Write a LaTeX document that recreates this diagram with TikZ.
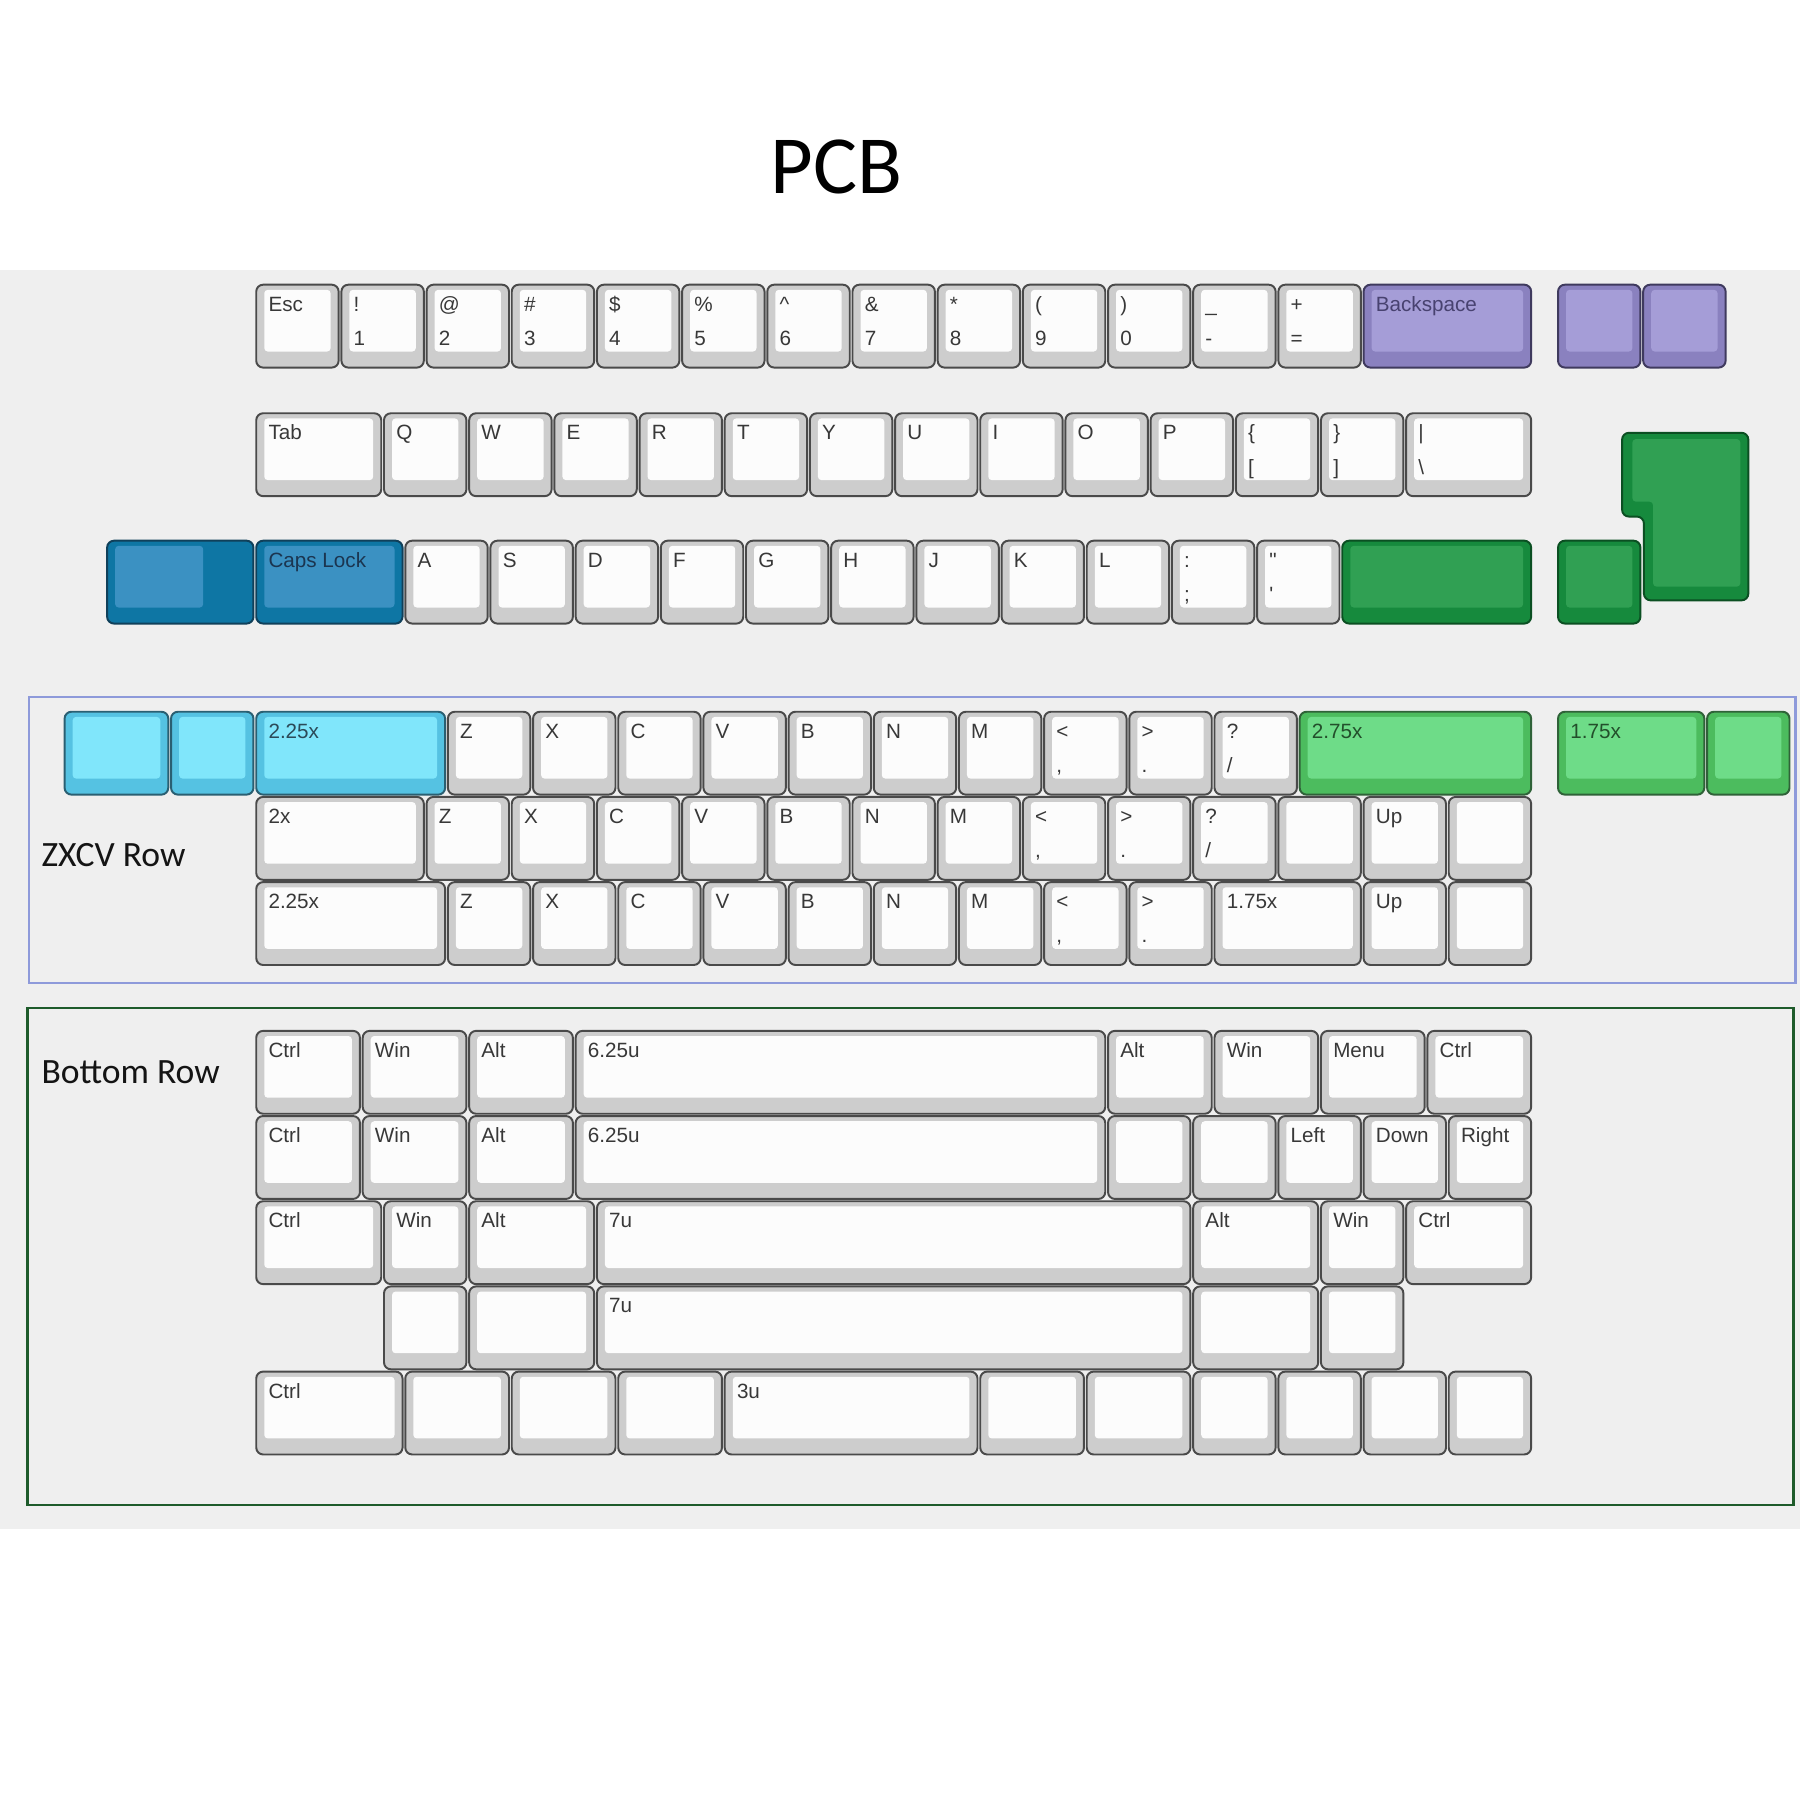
\documentclass[tikz,border=0pt]{standalone}
\usepackage{fontspec}
\setmainfont{Liberation Sans}
\newfontfamily\headfont{Carlito}
\definecolor{whiteO}{HTML}{CDCDCD}\definecolor{whiteI}{HTML}{FCFCFC}\definecolor{whiteB}{HTML}{4A4A4A}\definecolor{whiteT}{HTML}{383838}
\definecolor{purpO}{HTML}{8A81BF}\definecolor{purpI}{HTML}{A59DD7}\definecolor{purpB}{HTML}{3F3A5E}\definecolor{purpT}{HTML}{484270}
\definecolor{dblueO}{HTML}{0E76A4}\definecolor{dblueI}{HTML}{3B91C2}\definecolor{dblueB}{HTML}{10405A}\definecolor{dblueT}{HTML}{1B3550}
\definecolor{dgrnO}{HTML}{168A3D}\definecolor{dgrnI}{HTML}{30A053}\definecolor{dgrnB}{HTML}{0B4F22}\definecolor{dgrnT}{HTML}{0B3F1A}
\definecolor{lblueO}{HTML}{55C2E2}\definecolor{lblueI}{HTML}{80E6FB}\definecolor{lblueB}{HTML}{2A5F72}\definecolor{lblueT}{HTML}{2B4A58}
\definecolor{lgrnO}{HTML}{4CBC5E}\definecolor{lgrnI}{HTML}{6EDC88}\definecolor{lgrnB}{HTML}{2F6238}\definecolor{lgrnT}{HTML}{234F2B}
\definecolor{bandgray}{HTML}{EFEFEF}
\definecolor{zxframe}{HTML}{8E9ADA}
\definecolor{botframe}{HTML}{1E5B2B}
\tikzset{
  keyout/.style={rounded corners=6pt, line width=1.7pt},
  keyin/.style={rounded corners=3pt},
  keylbl/.style={anchor=base west, inner sep=0pt, font=\fontsize{18}{21}\selectfont},
  sectlbl/.style={anchor=base west, inner sep=0pt, text=black!92, font=\headfont\fontsize{31}{35}\selectfont},
}
% #1 x offset (u), #2 top y, #3 width (u), #4 scheme, #5 line 1, #6 line 2
\newcommand\keycap[6]{%
  \pgfmathsetmacro\kxa{222+#1*74.2+1.2}%
  \pgfmathsetmacro\kxb{222+(#1+#3)*74.2-1.2}%
  \pgfmathsetmacro\kya{#2+1}%
  \pgfmathsetmacro\kyb{#2+73.2}%
  \draw[keyout, fill=#4O, draw=#4B] (\kxa,\kya) rectangle (\kxb,\kyb);%
  \fill[keyin, fill=#4I] (\kxa+7,\kya+4.5) rectangle (\kxb-7,\kyb-14);%
  \if\relax\detokenize{#5}\relax\else\node[keylbl, text=#4T] at (\kxa+10.5,\kya+23) {#5};\fi
  \if\relax\detokenize{#6}\relax\else\node[keylbl, text=#4T] at (\kxa+10.5,\kya+53) {#6};\fi
}
\begin{document}
\begin{tikzpicture}[x=1pt,y=-1pt]
\useasboundingbox (0,0) rectangle (1568,1568);
\fill[white] (0,0) rectangle (1568,1568);
\fill[bandgray] (0,235) rectangle (1568,1332);
\node[anchor=base west, inner sep=0pt, font=\headfont\fontsize{72}{80}\selectfont] (title) at (671,168.5) {PCB};

% frames
\draw[zxframe, line width=2pt] (25,607) rectangle (1564,856);
\draw[botframe, line width=2.4pt] (24,878) rectangle (1562,1311);
\node[sectlbl] (zxlbl) at (36,755) {ZXCV Row};
\node[sectlbl] (botlbl) at (36,944) {Bottom Row};

% Row 1
\def\ry{247}
\keycap{0}{\ry}{1}{white}{Esc}{}
\keycap{1}{\ry}{1}{white}{!}{1}
\keycap{2}{\ry}{1}{white}{@}{2}
\keycap{3}{\ry}{1}{white}{\#}{3}
\keycap{4}{\ry}{1}{white}{\$}{4}
\keycap{5}{\ry}{1}{white}{\%}{5}
\keycap{6}{\ry}{1}{white}{\textasciicircum}{6}
\keycap{7}{\ry}{1}{white}{\&}{7}
\keycap{8}{\ry}{1}{white}{*}{8}
\keycap{9}{\ry}{1}{white}{(}{9}
\keycap{10}{\ry}{1}{white}{)}{0}
\keycap{11}{\ry}{1}{white}{\_}{-}
\keycap{12}{\ry}{1}{white}{+}{=}
\keycap{13}{\ry}{2}{purp}{Backspace}{}
\keycap{15.283}{\ry}{1}{purp}{}{}
\keycap{16.283}{\ry}{1}{purp}{}{}

% Row 2
\def\ry{359}
\keycap{0}{\ry}{1.5}{white}{Tab}{}
\keycap{1.5}{\ry}{1}{white}{Q}{}
\keycap{2.5}{\ry}{1}{white}{W}{}
\keycap{3.5}{\ry}{1}{white}{E}{}
\keycap{4.5}{\ry}{1}{white}{R}{}
\keycap{5.5}{\ry}{1}{white}{T}{}
\keycap{6.5}{\ry}{1}{white}{Y}{}
\keycap{7.5}{\ry}{1}{white}{U}{}
\keycap{8.5}{\ry}{1}{white}{I}{}
\keycap{9.5}{\ry}{1}{white}{O}{}
\keycap{10.5}{\ry}{1}{white}{P}{}
\keycap{11.5}{\ry}{1}{white}{\{}{[}
\keycap{12.5}{\ry}{1}{white}{\}}{]}
\keycap{13.5}{\ry}{1.5}{white}{|}{\textbackslash}

% Row 3
\def\ry{470}
\draw[keyout, fill=dblueO, draw=dblueB] (93.3,471) rectangle (220.8,543.2);
\fill[keyin, fill=dblueI] (100.3,475.5) rectangle (177,529.2);
\keycap{0}{\ry}{1.75}{dblue}{Caps Lock}{}
\keycap{1.75}{\ry}{1}{white}{A}{}
\keycap{2.75}{\ry}{1}{white}{S}{}
\keycap{3.75}{\ry}{1}{white}{D}{}
\keycap{4.75}{\ry}{1}{white}{F}{}
\keycap{5.75}{\ry}{1}{white}{G}{}
\keycap{6.75}{\ry}{1}{white}{H}{}
\keycap{7.75}{\ry}{1}{white}{J}{}
\keycap{8.75}{\ry}{1}{white}{K}{}
\keycap{9.75}{\ry}{1}{white}{L}{}
\keycap{10.75}{\ry}{1}{white}{:}{;}
\keycap{11.75}{\ry}{1}{white}{\textquotedbl}{\textquotesingle}
\keycap{12.75}{\ry}{2.25}{dgrn}{}{}
\keycap{15.283}{\ry}{1}{dgrn}{}{}
% ISO enter
\draw[keyout, fill=dgrnO, draw=dgrnB] (1413,377) -- (1523,377) -- (1523,523) -- (1432,523) -- (1432,450) -- (1413,450) -- cycle;
\fill[keyin, fill=dgrnI] (1422,382.5) -- (1516,382.5) -- (1516,511) -- (1440,511) -- (1440,437) -- (1422,437) -- cycle;

% ZXCV row A
\def\ry{619}
\keycap{-2.25}{\ry}{1.25}{lblue}{}{}
\keycap{-1}{\ry}{1}{lblue}{}{}
\keycap{0}{\ry}{2.25}{lblue}{2.25x}{}
\keycap{2.25}{\ry}{1}{white}{Z}{}
\keycap{3.25}{\ry}{1}{white}{X}{}
\keycap{4.25}{\ry}{1}{white}{C}{}
\keycap{5.25}{\ry}{1}{white}{V}{}
\keycap{6.25}{\ry}{1}{white}{B}{}
\keycap{7.25}{\ry}{1}{white}{N}{}
\keycap{8.25}{\ry}{1}{white}{M}{}
\keycap{9.25}{\ry}{1}{white}{<}{,}
\keycap{10.25}{\ry}{1}{white}{>}{.}
\keycap{11.25}{\ry}{1}{white}{?}{/}
\keycap{12.25}{\ry}{2.75}{lgrn}{2.75x}{}
\keycap{15.283}{\ry}{1.75}{lgrn}{1.75x}{}
\keycap{17.033}{\ry}{1}{lgrn}{}{}

% ZXCV row B
\def\ry{693.2}
\keycap{0}{\ry}{2}{white}{2x}{}
\keycap{2}{\ry}{1}{white}{Z}{}
\keycap{3}{\ry}{1}{white}{X}{}
\keycap{4}{\ry}{1}{white}{C}{}
\keycap{5}{\ry}{1}{white}{V}{}
\keycap{6}{\ry}{1}{white}{B}{}
\keycap{7}{\ry}{1}{white}{N}{}
\keycap{8}{\ry}{1}{white}{M}{}
\keycap{9}{\ry}{1}{white}{<}{,}
\keycap{10}{\ry}{1}{white}{>}{.}
\keycap{11}{\ry}{1}{white}{?}{/}
\keycap{12}{\ry}{1}{white}{}{}
\keycap{13}{\ry}{1}{white}{Up}{}
\keycap{14}{\ry}{1}{white}{}{}

% ZXCV row C
\def\ry{767.4}
\keycap{0}{\ry}{2.25}{white}{2.25x}{}
\keycap{2.25}{\ry}{1}{white}{Z}{}
\keycap{3.25}{\ry}{1}{white}{X}{}
\keycap{4.25}{\ry}{1}{white}{C}{}
\keycap{5.25}{\ry}{1}{white}{V}{}
\keycap{6.25}{\ry}{1}{white}{B}{}
\keycap{7.25}{\ry}{1}{white}{N}{}
\keycap{8.25}{\ry}{1}{white}{M}{}
\keycap{9.25}{\ry}{1}{white}{<}{,}
\keycap{10.25}{\ry}{1}{white}{>}{.}
\keycap{11.25}{\ry}{1.75}{white}{1.75x}{}
\keycap{13}{\ry}{1}{white}{Up}{}
\keycap{14}{\ry}{1}{white}{}{}

% Bottom row 1
\def\ry{897}
\keycap{0}{\ry}{1.25}{white}{Ctrl}{}
\keycap{1.25}{\ry}{1.25}{white}{Win}{}
\keycap{2.5}{\ry}{1.25}{white}{Alt}{}
\keycap{3.75}{\ry}{6.25}{white}{6.25u}{}
\keycap{10}{\ry}{1.25}{white}{Alt}{}
\keycap{11.25}{\ry}{1.25}{white}{Win}{}
\keycap{12.5}{\ry}{1.25}{white}{Menu}{}
\keycap{13.75}{\ry}{1.25}{white}{Ctrl}{}

% Bottom row 2
\def\ry{971.2}
\keycap{0}{\ry}{1.25}{white}{Ctrl}{}
\keycap{1.25}{\ry}{1.25}{white}{Win}{}
\keycap{2.5}{\ry}{1.25}{white}{Alt}{}
\keycap{3.75}{\ry}{6.25}{white}{6.25u}{}
\keycap{10}{\ry}{1}{white}{}{}
\keycap{11}{\ry}{1}{white}{}{}
\keycap{12}{\ry}{1}{white}{Left}{}
\keycap{13}{\ry}{1}{white}{Down}{}
\keycap{14}{\ry}{1}{white}{Right}{}

% Bottom row 3
\def\ry{1045.4}
\keycap{0}{\ry}{1.5}{white}{Ctrl}{}
\keycap{1.5}{\ry}{1}{white}{Win}{}
\keycap{2.5}{\ry}{1.5}{white}{Alt}{}
\keycap{4}{\ry}{7}{white}{7u}{}
\keycap{11}{\ry}{1.5}{white}{Alt}{}
\keycap{12.5}{\ry}{1}{white}{Win}{}
\keycap{13.5}{\ry}{1.5}{white}{Ctrl}{}

% Bottom row 4
\def\ry{1119.6}
\keycap{1.5}{\ry}{1}{white}{}{}
\keycap{2.5}{\ry}{1.5}{white}{}{}
\keycap{4}{\ry}{7}{white}{7u}{}
\keycap{11}{\ry}{1.5}{white}{}{}
\keycap{12.5}{\ry}{1}{white}{}{}

% Bottom row 5
\def\ry{1193.8}
\keycap{0}{\ry}{1.75}{white}{Ctrl}{}
\keycap{1.75}{\ry}{1.25}{white}{}{}
\keycap{3}{\ry}{1.25}{white}{}{}
\keycap{4.25}{\ry}{1.25}{white}{}{}
\keycap{5.5}{\ry}{3}{white}{3u}{}
\keycap{8.5}{\ry}{1.25}{white}{}{}
\keycap{9.75}{\ry}{1.25}{white}{}{}
\keycap{11}{\ry}{1}{white}{}{}
\keycap{12}{\ry}{1}{white}{}{}
\keycap{13}{\ry}{1}{white}{}{}
\keycap{14}{\ry}{1}{white}{}{}
\end{tikzpicture}
\end{document}
